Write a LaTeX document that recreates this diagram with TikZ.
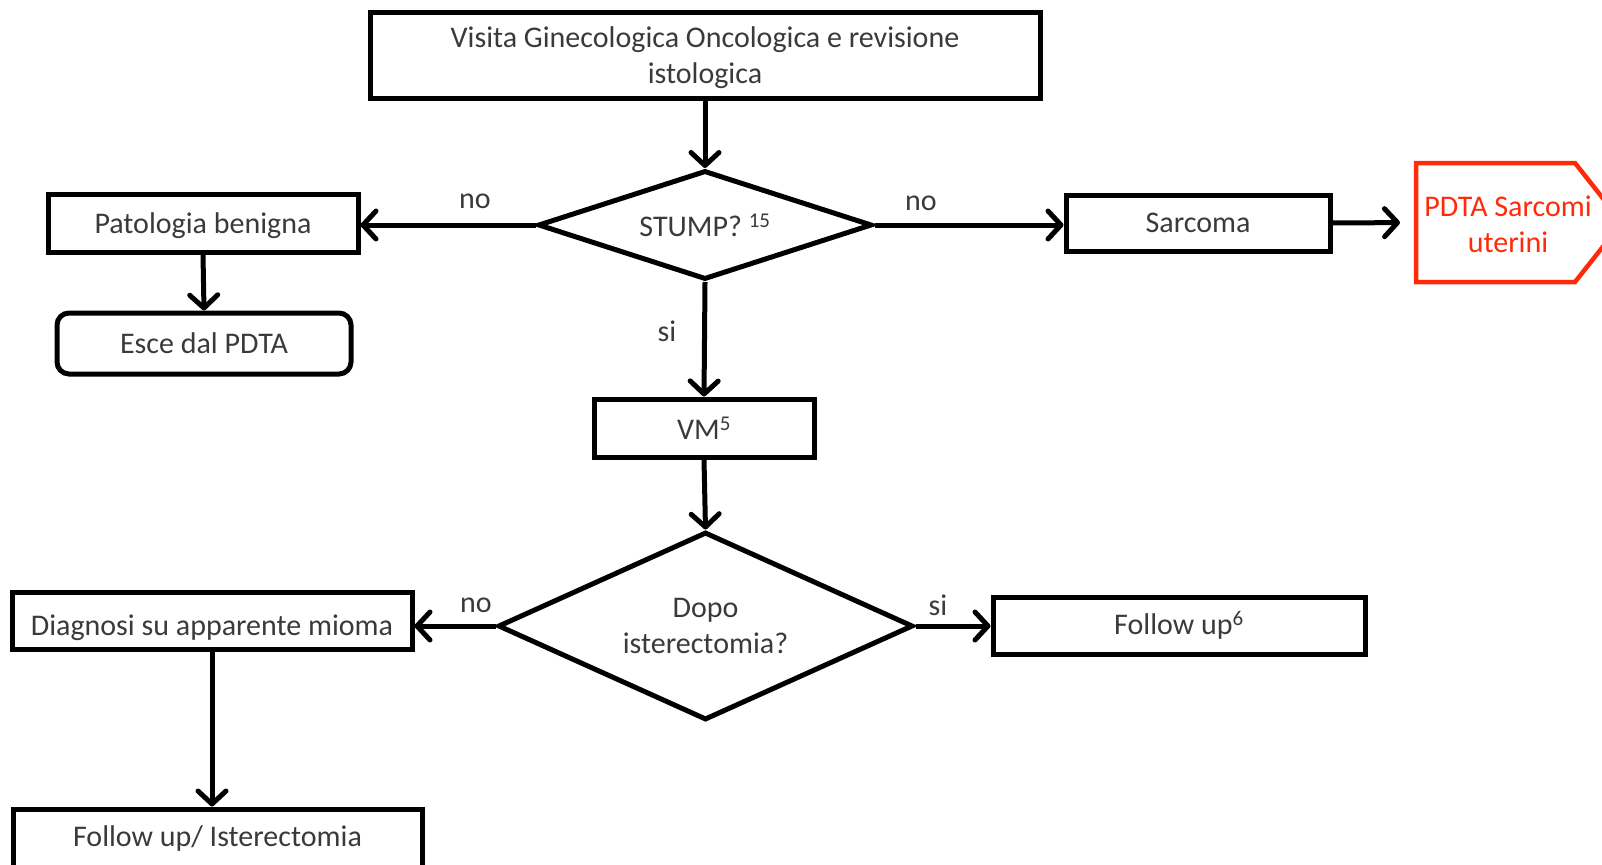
\documentclass[tikz,border=0pt]{standalone}
\usepackage{fontspec}
\setmainfont{Carlito}
\usetikzlibrary{arrows.meta,shapes.geometric}
\definecolor{txt}{HTML}{3A3A3A}
\definecolor{pdtared}{HTML}{FF2A0A}
\tikzset{
  box/.style={draw=black, line width=5pt, rectangle, inner sep=0pt, text=txt, font=\fontsize{30}{36}\selectfont, align=center},
  rbox/.style={box, rounded corners=12pt},
  dia/.style={draw=black, line width=5pt, diamond, inner sep=0pt, text=txt, font=\fontsize{30}{36}\selectfont, align=center},
  arr/.style={line width=5pt, -{Straight Barb[length=13pt,width=28pt,round]}},
  lbl/.style={text=txt, font=\fontsize{30}{36}\selectfont, inner sep=0pt}
}
\begin{document}
\begin{tikzpicture}[x=1pt,y=-1pt]
\useasboundingbox (0,0) rectangle (1602,864);
\clip (0,0) rectangle (1602,864);
% nodes
\node[box, minimum width=670pt, minimum height=86pt] (visita) at (705,56) {\rule{0pt}{24pt}Visita Ginecologica Oncologica e revisione\\istologica};
\node[dia, shape aspect=3, minimum width=334pt, minimum height=109pt] (stump) at (705,225) {STUMP? \textsuperscript{15}};
\node[box, minimum width=310pt, minimum height=58pt, text height=27pt, text depth=6pt] (pat) at (203,223) {Patologia benigna};
\node[rbox, minimum width=294pt, minimum height=61pt] (esce) at (204,343.5) {Esce dal PDTA};
\node[box, minimum width=264pt, minimum height=56pt, text height=24pt, text depth=6pt] (sarc) at (1198,223) {Sarcoma};
% PDTA Sarcomi uterini (pointed box, cut at the right edge)
\draw[draw=pdtared, line width=4.5pt, line join=miter] (1416,163) -- (1575,163) -- (1622,222.5) -- (1575,282) -- (1416,282) -- cycle;
\coordinate (pdtaw) at (1416,222.5);
\node[lbl, text=pdtared, align=center] (pdta) at (1508,224) {PDTA Sarcomi\\uterini};
\node[box, minimum width=220pt, minimum height=58pt] (vm) at (704,428) {VM\textsuperscript{5}};
\node[dia, shape aspect=2.2, minimum width=415pt, minimum height=188pt] (dopo) at (705.5,626) {Dopo\\isterectomia?};
\node[box, minimum width=400pt, minimum height=57pt, text height=35pt, text depth=6pt] (diag) at (212,620.5) {Diagnosi su apparente mioma};
\node[box, minimum width=372pt, minimum height=57pt] (fu) at (1179,625.5) {Follow up\textsuperscript{6}};
\node[box, minimum width=409pt, minimum height=58pt] (fuist) at (217.5,838) {Follow up/ Isterectomia};
% connectors
\draw[arr] (visita.south) -- (stump.north);
\draw[arr] (stump.west) -- (pat.east |- stump.west);
\draw[arr] (stump.east) -- (sarc.west |- stump.east);
\draw[arr, shorten >=16pt] (sarc.east) -- (pdtaw);
\draw[arr] (pat.south) -- (esce.north);
\draw[arr] (stump.south) -- (vm.north);
\draw[arr] (vm.south) -- (dopo.north);
\draw[arr] (dopo.west) -- (diag.east |- dopo.west);
\draw[arr] (dopo.east) -- (fu.west |- dopo.east);
\draw[arr] (diag.south) -- (diag.south |- fuist.north);
% labels
\node[lbl] (l1) at (475,201) {no};
\node[lbl] (l2) at (921,203) {no};
\node[lbl] (l3) at (667,331) {si};
\node[lbl] (l4) at (476,605) {no};
\node[lbl] (l5) at (938,605) {si};
\end{tikzpicture}
\end{document}
